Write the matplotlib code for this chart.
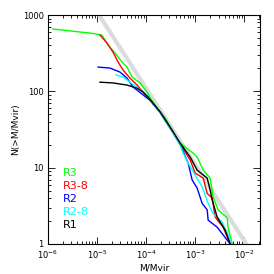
import numpy as np
import matplotlib
matplotlib.use('Agg')
import matplotlib.pyplot as plt
from matplotlib.ticker import LogLocator, NullFormatter, FixedLocator

# cumulative subhalo mass functions
m_r3 = [1.26e-6, 7.2e-6, 1.26e-5, 1.67e-5, 2.33e-5, 3.24e-5, 4.09e-5, 5.18e-5, 7.55e-5,
        1.05e-4, 1.21e-4, 1.93e-4, 2.44e-4, 3.4e-4, 4.94e-4, 9.1e-4, 1.1e-3, 1.46e-3,
        2.02e-3, 2.33e-3, 2.94e-3, 4.5e-3, 4.71e-3, 5.69e-3]
n_r3 = [656, 581, 547, 405, 318, 242, 208, 154, 129, 98, 82, 54, 45, 31, 21, 15.5, 13.8,
        9.3, 7.3, 4.1, 2.8, 2.2, 1.61, 1.0]

m_r3_8 = [1.15e-5, 1.6e-5, 2.12e-5, 2.69e-5, 3.4e-5, 4.71e-5, 6.55e-5, 1.10e-4, 1.93e-4,
          3.4e-4, 4.94e-4, 7.91e-4, 1.0e-3, 1.46e-3, 1.76e-3, 2.22e-3, 2.56e-3, 3.72e-3, 5.18e-3]
n_r3_8 = [547, 430, 327, 242, 190, 149, 121, 82, 53, 30, 20.5, 12.6, 8.5, 7.3, 4.6, 4.0,
          2.25, 1.66, 1.0]

m_r2 = [1.05e-5, 1.84e-5, 2.94e-5, 4.09e-5, 5.43e-5, 8.69e-5, 1.21e-4, 1.93e-4, 3.4e-4,
        4.94e-4, 7.2e-4, 8.69e-4, 1.1e-3, 1.39e-3, 1.76e-3, 1.84e-3, 2.81e-3, 5.18e-3]
n_r2 = [208, 202, 179, 149, 114, 90, 76, 53, 30, 20, 11.5, 6.9, 5.4, 3.4, 2.8, 2.05, 1.66, 1.0]

m_r2_8 = [2.45e-5, 3.4e-5, 4.71e-5, 6.87e-5, 9.5e-5, 1.21e-4, 1.93e-4, 3.4e-4, 4.94e-4,
          5.69e-4, 7.2e-4, 1.39e-3, 1.84e-3, 2.33e-3, 3.56e-3, 5.69e-3]
n_r2_8 = [164, 154, 132, 110, 95, 77, 53, 30, 20, 15.5, 11.5, 5.6, 3.4, 2.5, 1.94, 1.0]

m_r1 = [1.15e-5, 2.12e-5, 4.09e-5, 6.55e-5, 8.69e-5, 1.10e-4, 1.93e-4, 3.4e-4, 4.94e-4,
        7.91e-4, 1.1e-3, 1.76e-3, 2.02e-3, 2.22e-3, 2.81e-3, 4.09e-3, 5.18e-3]
n_r1 = [132, 129, 121, 110, 98, 84, 54, 31, 21, 13.8, 9.3, 7.3, 5.1, 3.8, 2.25, 1.52, 1.0]

labels = ['R3', 'R3-8', 'R2', 'R2-8', 'R1']
colors = ['#00ff00', '#ff0000', '#0000ff', '#00ffff', '#000000']

# reference power law N = A / M
ref_amp = 0.011
ref_m = [1e-6, 2e-2]

fig = plt.figure(figsize=(2.74, 2.74), dpi=100)
ax = fig.add_axes([0.175, 0.1095, 0.774, 0.8355])

ax.plot(ref_m, [ref_amp / m for m in ref_m], color='#dcdcdc', lw=3.0, solid_capstyle='butt')

curves = [(m_r3, n_r3), (m_r3_8, n_r3_8), (m_r2, n_r2), (m_r2_8, n_r2_8), (m_r1, n_r1)]
for (m, n), c in zip(curves, colors):
    ax.plot(m, n, color=c, lw=1.0)

ax.set_xscale('log')
ax.set_yscale('log')
ax.set_xlim(1e-6, 2.1e-2)
ax.set_ylim(1, 1000)

ax.xaxis.set_major_locator(FixedLocator([1e-6, 1e-5, 1e-4, 1e-3, 1e-2]))
ax.set_xticklabels([r'10$^{-6}$', r'10$^{-5}$', r'10$^{-4}$', r'10$^{-3}$', r'10$^{-2}$'])
ax.yaxis.set_major_locator(FixedLocator([1, 10, 100, 1000]))
ax.set_yticklabels(['1', '10', '100', '1000'])
ax.xaxis.set_minor_locator(LogLocator(base=10, subs=np.arange(2, 10)))
ax.yaxis.set_minor_locator(LogLocator(base=10, subs=np.arange(2, 10)))
ax.xaxis.set_minor_formatter(NullFormatter())
ax.yaxis.set_minor_formatter(NullFormatter())

ax.tick_params(which='both', direction='in', top=True, right=True, labelsize=6, width=0.6, pad=3)
ax.tick_params(which='major', length=5)
ax.tick_params(which='minor', length=2.5)
for s in ax.spines.values():
    s.set_linewidth(0.8)

ax.set_xlabel('M/Mvir', fontsize=6.5, labelpad=2)
ax.set_ylabel('N(>M/Mvir)', fontsize=6.5)
ax.yaxis.set_label_coords(-0.13, 0.5)

for i, (lab, c) in enumerate(zip(labels, colors)):
    ax.text(0.07, 0.31 - i * 0.057, lab, color=c, fontsize=8, transform=ax.transAxes,
            va='center', ha='left')

fig.savefig('out.png', dpi=100)
